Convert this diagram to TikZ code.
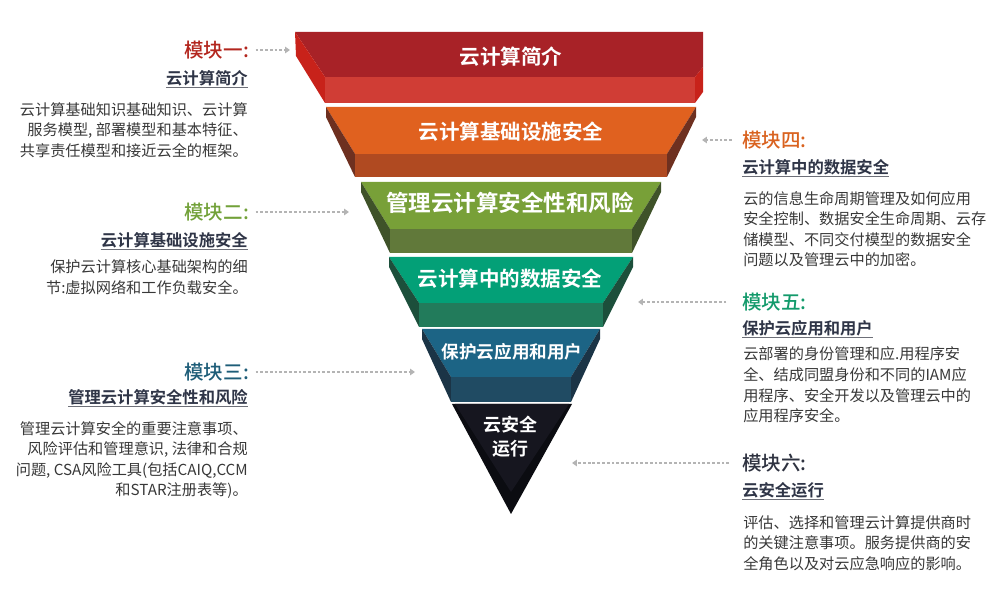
\documentclass[tikz,border=0pt]{standalone}
\usepackage{fontspec}
\setmainfont{Noto Sans CJK SC}[BoldFont={Noto Sans CJK SC Bold}]
\newfontfamily\headfont{Noto Sans CJK SC Medium}
\usetikzlibrary{arrows.meta}
\definecolor{redtop}{HTML}{A82227}
\definecolor{redband}{HTML}{D03D35}
\definecolor{redside}{HTML}{C8221A}
\definecolor{orangetop}{HTML}{E0611F}
\definecolor{orangeband}{HTML}{B04A21}
\definecolor{orangeside}{HTML}{6E3020}
\definecolor{greentop}{HTML}{78A038}
\definecolor{greenband}{HTML}{61793A}
\definecolor{greenside}{HTML}{3F5229}
\definecolor{tealtop}{HTML}{03A077}
\definecolor{tealband}{HTML}{227B5B}
\definecolor{tealside}{HTML}{1C4F3B}
\definecolor{bluetop}{HTML}{1C6485}
\definecolor{blueband}{HTML}{204B63}
\definecolor{blueside}{HTML}{1B3446}
\definecolor{darktop}{HTML}{16161F}
\definecolor{darkside}{HTML}{0B0C11}
\definecolor{mod1}{HTML}{B3261E}
\definecolor{mod2}{HTML}{72A139}
\definecolor{mod3}{HTML}{1E5D78}
\definecolor{mod4}{HTML}{D9621F}
\definecolor{mod5}{HTML}{139A6B}
\definecolor{mod6}{HTML}{2E3240}
\definecolor{subgray}{HTML}{2F3547}
\definecolor{bodygray}{HTML}{383838}
\definecolor{linegray}{HTML}{6D6F78}
\definecolor{dotgray}{HTML}{B4B4B4}
\begin{document}
\begin{tikzpicture}  % ------ L'entonnoir des six modules ------------------
      [x={(0.025cm,0cm)},y={(0cm,-0.025cm)},
       layer/.style={font=\fontsize{14.6}{17}\selectfont\bfseries, text=white},
       head/.style={font=\fontsize{13.9}{16}\selectfont\headfont, inner sep=2pt},
       sub/.style={font=\fontsize{11.6}{14}\selectfont\bfseries, text=subgray, inner sep=0pt},
       body/.style={font=\fontsize{10.8}{14.6}\selectfont, text=bodygray, inner sep=0pt},
       uline/.style={draw=linegray, line width=1.1pt},
       dots/.style={draw=dotgray, line width=1.8pt, dash pattern=on 2pt off 1.4pt,
                    shorten <=2.5pt, -{Triangle[length=3.5pt,width=4.6pt]}}]
    \useasboundingbox (0,0) rectangle (1008,609);
    % ------ couche 1 ------
    \fill [redtop] (295,32) -- (703,32) -- (703,67) -- (695,77) -- (325,77) -- cycle;
    \fill [redside] (295,32) -- (325,77) -- (325,103) -- (296,56) -- cycle;
    \fill [redside] (703,67) -- (703,92) -- (695,103) -- (695,77) -- cycle;
    \fill [redband] (325,77) rectangle (695,103);
    \node [layer] (l1) at (511,57) {云计算简介};
    % ------ couche 2 ------
    \fill [orangetop] (326,107) -- (696,107) -- (667,154) -- (355,154) -- cycle;
    \fill [orangeside] (326,107) -- (355,154) -- (355,177) -- (326,117) -- cycle;
    \fill [orangeside] (696,107) -- (667,154) -- (667,177) -- (696,117) -- cycle;
    \fill [orangeband] (355,154) rectangle (667,177);
    \node [layer] (l2) at (511,132) {云计算基础设施安全};
    % ------ couche 3 ------
    \fill [greentop] (361,182) -- (661,182) -- (632,229) -- (390,229) -- cycle;
    \fill [greenside] (361,182) -- (390,229) -- (390,253) -- (361,192) -- cycle;
    \fill [greenside] (661,182) -- (632,229) -- (632,253) -- (661,192) -- cycle;
    \fill [greenband] (390,229) rectangle (632,253);
    \node [layer, font=\fontsize{16}{18}\selectfont\bfseries] (l3) at (510,203) {管理云计算安全性和风险};
    % ------ couche 4 ------
    \fill [tealtop] (389,257) -- (633,257) -- (603,303) -- (419,303) -- cycle;
    \fill [tealside] (389,257) -- (419,303) -- (419,327) -- (389,267) -- cycle;
    \fill [tealside] (633,257) -- (603,303) -- (603,327) -- (633,267) -- cycle;
    \fill [tealband] (419,303) rectangle (603,327);
    \node [layer] (l4) at (510,279) {云计算中的数据安全};
    % ------ couche 5 ------
    \fill [bluetop] (422,329) -- (600,329) -- (571,377) -- (451,377) -- cycle;
    \fill [blueside] (422,329) -- (451,377) -- (451,402) -- (422,339) -- cycle;
    \fill [blueside] (600,329) -- (571,377) -- (571,402) -- (600,339) -- cycle;
    \fill [blueband] (451,377) rectangle (571,402);
    \node [layer, font=\fontsize{12.5}{15}\selectfont\bfseries] (l5) at (512,352) {保护云应用和用户};
    % ------ pointe ------
    \fill [darkside] (452,404) -- (572,404) -- (511,514) -- cycle;
    \fill [darktop] (455,404) -- (569,404) -- (511,492) -- cycle;
    \node [layer, font=\fontsize{12.8}{17}\selectfont\bfseries, align=center] (l6) at (510,437) {云安全\\运行};
    % ------ modules a gauche ------
    \node [head, text=mod1, anchor=east] (m1) at (252,50) {模块一:};
    \node [sub, anchor=east] (s1) at (248,78) {云计算简介};
    \draw [uline] ([yshift=-1pt]s1.south west) -- ([yshift=-1pt]s1.south east);
    \node [body, anchor=east, align=right] (b1) at (248,130) {云计算基础知识基础知识、云计算\\服务模型, 部署模型和基本特征、\\共享责任模型和接近云全的框架。};
    \node [head, text=mod2, anchor=east] (m2) at (252,212) {模块二:};
    \node [sub, anchor=east] (s2) at (248,240) {云计算基础设施安全};
    \draw [uline] ([yshift=-1pt]s2.south west) -- ([yshift=-1pt]s2.south east);
    \node [body, anchor=east, align=right] (b2) at (248,277) {保护云计算核心基础架构的细\\节:虚拟网络和工作负载安全。};
    \node [head, text=mod3, anchor=east] (m3) at (252,372) {模块三:};
    \node [sub, anchor=east] (s3) at (248,397) {管理云计算安全性和风险};
    \draw [uline] ([yshift=-1pt]s3.south west) -- ([yshift=-1pt]s3.south east);
    \node [body, anchor=east, align=right] (b3) at (248,460) {管理云计算安全的重要注意事项、\\风险评估和管理意识, 法律和合规\\问题, CSA风险工具(包括CAIQ,CCM\\和STAR注册表等)。};
    % ------ modules a droite ------
    \node [head, text=mod4, anchor=west] (m4) at (739,140) {模块四:};
    \node [sub, anchor=west] (s4) at (742,167) {云计算中的数据安全};
    \draw [uline] ([yshift=-1pt]s4.south west) -- ([yshift=-1pt]s4.south east);
    \node [body, anchor=west, align=left] (b4) at (743,229) {云的信息生命周期管理及如何应用\\安全控制、数据安全生命周期、云存\\储模型、不同交付模型的数据安全\\问题以及管理云中的加密。};
    \node [head, text=mod5, anchor=west] (m5) at (739,302) {模块五:};
    \node [sub, anchor=west] (s5) at (742,328) {保护云应用和用户};
    \draw [uline] ([yshift=-1pt]s5.south west) -- ([yshift=-1pt]s5.south east);
    \node [body, anchor=west, align=left] (b5) at (743,385) {云部署的身份管理和应.用程序安\\全、结成同盟身份和不同的IAM应\\用程序、安全开发以及管理云中的\\应用程序安全。};
    \node [head, text=mod6, anchor=west] (m6) at (739,463) {模块六:};
    \node [sub, anchor=west] (s6) at (742,490) {云安全运行};
    \draw [uline] ([yshift=-1pt]s6.south west) -- ([yshift=-1pt]s6.south east);
    \node [body, anchor=west, align=left] (b6) at (743,543) {评估、选择和管理云计算提供商时\\的关键注意事项。服务提供商的安\\全角色以及对云应急响应的影响。};
    % ------ fleches pointillees ------
    \coordinate (t1) at (290,50);
    \coordinate (t2) at (349,212);
    \coordinate (t3) at (415,372);
    \coordinate (t4) at (702,140);
    \coordinate (t5) at (638,302);
    \coordinate (t6) at (572,463);
    \draw [dots] (m1) -- (t1);
    \draw [dots] (m2) -- (t2);
    \draw [dots] (m3) -- (t3);
    \draw [dots, shorten <=5pt] (m4) -- (t4);
    \draw [dots, shorten <=9pt] (m5) -- (t5);
    \draw [dots, shorten <=7pt] (m6) -- (t6);
\end{tikzpicture}
\end{document}
